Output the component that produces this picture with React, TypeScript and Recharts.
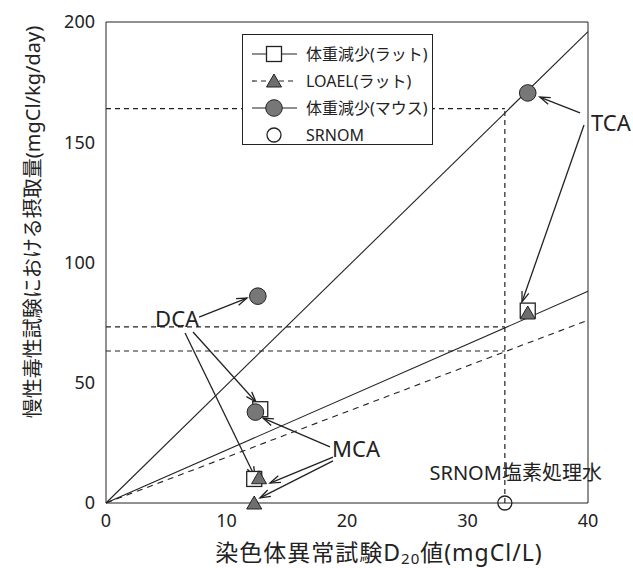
import {
  ComposedChart,
  Line,
  Scatter,
  XAxis,
  YAxis,
  ReferenceLine,
  ReferenceDot,
} from 'recharts';

const FONT = '"Noto Sans", "Noto Sans CJK JP", sans-serif';
const INK = '#222';

const X_TICKS = [0, 10, 20, 30, 40];
const Y_TICKS = [0, 50, 100, 150, 200];
const X_INNER = [10, 20, 30];
const Y_INNER = [50, 100, 150];

// markers
const ratLoss = [{ x: 12.3, y: 10 }, { x: 12.8, y: 39 }, { x: 35, y: 80 }];
const loaelRat = [{ x: 12.3, y: 0 }, { x: 12.7, y: 10.5 }, { x: 35, y: 79 }];
const mouseLoss = [{ x: 12.6, y: 86 }, { x: 12.4, y: 37.8 }, { x: 35, y: 170.5 }];
const srnom = [{ x: 33.1, y: 0 }];

// fitted lines
const steepLine = [{ x: 0, y: 0 }, { x: 40, y: 196 }];
const ratLine = [{ x: 0, y: 0 }, { x: 40, y: 88 }];
const loaelLine = [{ x: 0, y: 0 }, { x: 40, y: 76 }];

// dashed guides
const guides = [
  [{ x: 33.1, y: 0 }, { x: 33.1, y: 164 }],
  [{ x: 0, y: 164 }, { x: 33.1, y: 164 }],
  [{ x: 0, y: 73.2 }, { x: 33.1, y: 73.2 }],
  [{ x: 0, y: 63.2 }, { x: 33.1, y: 63.2 }],
];

// annotations
const noteLabels = [
  { text: 'TCA', x: 41.9, y: 158.4, size: 22 },
  { text: 'DCA', x: 5.9, y: 76.9, size: 22 },
  { text: 'MCA', x: 20.75, y: 22.9, size: 22 },
  { text: 'SRNOM塩素処理水', x: 34.0, y: 12.5, size: 20 },
];

const arrows = [
  [{ x: 39.34, y: 162.2 }, { x: 36.0, y: 168.8 }],
  [{ x: 39.67, y: 157.2 }, { x: 34.52, y: 83.6 }],
  [{ x: 7.72, y: 77.3 }, { x: 11.7, y: 85.2 }],
  [{ x: 7.22, y: 71.1 }, { x: 12.45, y: 42.0 }],
  [{ x: 6.56, y: 70.7 }, { x: 12.37, y: 10.8 }],
  [{ x: 18.59, y: 23.3 }, { x: 13.03, y: 35.3 }],
  [{ x: 18.84, y: 19.1 }, { x: 13.61, y: 8.3 }],
  [{ x: 18.84, y: 17.5 }, { x: 12.78, y: 2.1 }],
];

const legendItems = ['体重減少(ラット)', 'LOAEL(ラット)', '体重減少(マウス)', 'SRNOM'];

function Square({ cx, cy }: any) {
  return <rect x={cx - 7.5} y={cy - 7.5} width={15} height={15} fill="#fff" stroke={INK} strokeWidth={1.3} />;
}

function Triangle({ cx, cy }: any) {
  return (
    <polygon
      points={`${cx},${cy - 7} ${cx + 7.5},${cy + 6} ${cx - 7.5},${cy + 6}`}
      fill="#6e6e6e"
      stroke={INK}
      strokeWidth={1}
    />
  );
}

function Dot({ cx, cy }: any) {
  return <circle cx={cx} cy={cy} r={8.3} fill="#777" stroke={INK} strokeWidth={1} />;
}

function OpenDot({ cx, cy }: any) {
  return <circle cx={cx} cy={cy} r={7} fill="none" stroke={INK} strokeWidth={1.3} />;
}

function Arrow(p: any) {
  const { x1, y1, x2, y2 } = p;
  const ang = Math.atan2(y2 - y1, x2 - x1);
  const L = 11;
  const a = 0.33;
  const ax = x2 - L * Math.cos(ang - a);
  const ay = y2 - L * Math.sin(ang - a);
  const bx = x2 - L * Math.cos(ang + a);
  const by = y2 - L * Math.sin(ang + a);
  return (
    <g>
      <line x1={x1} y1={y1} x2={x2} y2={y2} stroke={INK} strokeWidth={1.3} />
      <polyline points={`${ax},${ay} ${x2},${y2} ${bx},${by}`} fill="none" stroke={INK} strokeWidth={1.3} />
    </g>
  );
}

function LegendMark({ kind }: { kind: number }) {
  return (
    <svg width={50} height={20} style={{ display: 'block' }}>
      {kind === 0 && <line x1={2} y1={10} x2={47} y2={10} stroke={INK} strokeWidth={1.2} />}
      {kind === 1 && <line x1={2} y1={10} x2={47} y2={10} stroke={INK} strokeWidth={1.2} strokeDasharray="5 4" />}
      {kind === 2 && <line x1={2} y1={10} x2={47} y2={10} stroke={INK} strokeWidth={1.2} />}
      {kind === 0 && <Square cx={24} cy={10} />}
      {kind === 1 && <Triangle cx={24} cy={10} />}
      {kind === 2 && <Dot cx={24} cy={10} />}
      {kind === 3 && <OpenDot cx={24} cy={10} />}
    </svg>
  );
}

const tickStyle = { fontSize: 18, fill: INK, fontFamily: FONT };

export default function App() {
  return (
    <div style={{ position: 'absolute', left: 0, top: 0, width: 633, height: 568, background: '#fff', fontFamily: FONT }}>
      <ComposedChart width={633} height={568} margin={{ top: 22, right: 45, bottom: 35, left: 66 }}>
        <XAxis
          dataKey="x"
          type="number"
          domain={[0, 40]}
          ticks={X_TICKS}
          tick={tickStyle}
          tickLine={false}
          tickSize={0}
          tickMargin={11}
          height={30}
          axisLine={{ stroke: INK }}
        />
        <XAxis xAxisId="top" orientation="top" mirror type="number" domain={[0, 40]} allowDataOverflow
          ticks={X_INNER} tick={false} tickSize={5} axisLine={{ stroke: INK }} tickLine={{ stroke: INK }} />
        <XAxis xAxisId="bot" orientation="bottom" mirror type="number" domain={[0, 40]} allowDataOverflow
          ticks={X_INNER} tick={false} tickSize={5} axisLine={false} tickLine={{ stroke: INK }} />
        <YAxis
          dataKey="y"
          type="number"
          domain={[0, 200]}
          ticks={Y_TICKS}
          tick={tickStyle}
          tickLine={false}
          tickSize={0}
          tickMargin={11}
          width={40}
          axisLine={{ stroke: INK }}
        />
        <YAxis yAxisId="right" orientation="right" mirror type="number" domain={[0, 200]} allowDataOverflow
          ticks={Y_INNER} tick={false} tickSize={5} axisLine={{ stroke: INK }} tickLine={{ stroke: INK }} />
        <YAxis yAxisId="lm" orientation="left" mirror type="number" domain={[0, 200]} allowDataOverflow
          ticks={Y_INNER} tick={false} tickSize={5} axisLine={false} tickLine={{ stroke: INK }} />

        {guides.map((seg, i) => (
          <ReferenceLine key={`g${i}`} segment={seg} stroke={INK} strokeWidth={1.2} strokeDasharray="5 4" />
        ))}

        <Line data={steepLine} dataKey="y" stroke={INK} strokeWidth={1.1} dot={false} isAnimationActive={false} />
        <Line data={ratLine} dataKey="y" stroke={INK} strokeWidth={1.1} dot={false} isAnimationActive={false} />
        <Line data={loaelLine} dataKey="y" stroke={INK} strokeWidth={1.1} strokeDasharray="6 5" dot={false} isAnimationActive={false} />

        <Scatter data={ratLoss} shape={Square} isAnimationActive={false} />
        <Scatter data={loaelRat} shape={Triangle} isAnimationActive={false} />
        <Scatter data={mouseLoss} shape={Dot} isAnimationActive={false} />
        <Scatter data={srnom} shape={OpenDot} isAnimationActive={false} />

        {arrows.map((seg, i) => (
          <ReferenceLine key={`a${i}`} segment={seg} ifOverflow="visible" shape={Arrow} />
        ))}

        {noteLabels.map((n) => (
          <ReferenceDot
            key={n.text}
            x={n.x}
            y={n.y}
            r={0}
            ifOverflow="visible"
            shape={(p: any) => (
              <text x={p.cx} y={p.cy} textAnchor="middle" dominantBaseline="central" fontSize={n.size} fill={INK} fontFamily={FONT}>
                {n.text}
              </text>
            )}
          />
        ))}
      </ComposedChart>

      {/* legend */}
      <div style={{ position: 'absolute', left: 242, top: 34, width: 189, height: 109, border: `1px solid ${INK}`, background: '#fff' }}>
        {legendItems.map((t, i) => (
          <div key={t} style={{ position: 'absolute', left: 7, top: 9 + i * 27, height: 20, display: 'flex', alignItems: 'center' }}>
            <LegendMark kind={i} />
            <span style={{ fontSize: 16, color: INK, marginLeft: 6, whiteSpace: 'nowrap', lineHeight: '20px' }}>{t}</span>
          </div>
        ))}
      </div>

      {/* axis titles */}
      <div style={{ position: 'absolute', left: 0, top: 537, width: 758, textAlign: 'center', fontSize: 23, color: INK, letterSpacing: 1, lineHeight: '30px', whiteSpace: 'nowrap' }}>
        染色体異常試験D<sub style={{ fontSize: 15, verticalAlign: -3, lineHeight: 0 }}>20</sub>値(mgCl/L)
      </div>
      <div style={{ position: 'absolute', left: 33 - 260, top: 222 - 15, width: 520, height: 30, textAlign: 'center', fontSize: 20, color: INK, lineHeight: '30px', transform: 'rotate(-90deg)', whiteSpace: 'nowrap' }}>
        慢性毒性試験における摂取量(mgCl/kg/day)
      </div>
    </div>
  );
}
